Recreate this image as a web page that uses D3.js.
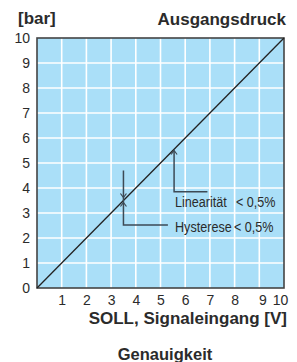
<!DOCTYPE html>
<html>
<head>
<meta charset="utf-8">
<script src="https://cdn.jsdelivr.net/npm/d3@7"></script>
<style>
  body { margin: 0; background: #fff; }
  svg { display: block; }
</style>
</head>
<body>
<div id="chart"></div>
<script>
// Kennlinie: Ausgangsdruck über Signaleingang
const xTicks = [1, 2, 3, 4, 5, 6, 7, 8, 9, 10];
const yTicks = [0, 1, 2, 3, 4, 5, 6, 7, 8, 9, 10];
const kennlinie = [[0, 0], [10, 10]];
// Anmerkungen (Position in Daten-Einheiten)
const hysterese = { x: 3.5, yTop: 4.7, yBottom: 2.52, xEnd: 5.3, label: "Hysterese", wert: "< 0,5%" };
const linearitaet = { x: 5.55, yTop: 5.5, yBottom: 3.85, xEnd: 6.9, label: "Linearität", wert: "< 0,5%" };

const breite = 297, hoehe = 362;
const rand = { links: 37, rechts: 13, oben: 38, unten: 74 };

const svg = d3.select("#chart").append("svg")
    .attr("width", breite)
    .attr("height", hoehe);

const x = d3.scaleLinear().domain([0, 10]).range([rand.links, breite - rand.rechts]);
const y = d3.scaleLinear().domain([0, 10]).range([hoehe - rand.unten, rand.oben]);

const textFarbe = "#2b2b2b";
const schrift = "Liberation Sans, Arial, sans-serif";

// Hintergrund
svg.append("rect")
    .attr("x", x(0)).attr("y", y(10))
    .attr("width", x(10) - x(0)).attr("height", y(0) - y(10))
    .attr("fill", "#aadff8");

// Gitter
svg.append("g")
    .selectAll("line")
    .data(xTicks.slice(0, -1))
    .join("line")
    .attr("x1", d => x(d)).attr("x2", d => x(d))
    .attr("y1", y(0)).attr("y2", y(10))
    .attr("stroke", "#fff").attr("stroke-width", 1.6);

svg.append("g")
    .selectAll("line")
    .data(yTicks.slice(1, -1))
    .join("line")
    .attr("y1", d => y(d)).attr("y2", d => y(d))
    .attr("x1", x(0)).attr("x2", x(10))
    .attr("stroke", "#fff").attr("stroke-width", 1.6);

// Rahmen
svg.append("rect")
    .attr("x", x(0)).attr("y", y(10))
    .attr("width", x(10) - x(0)).attr("height", y(0) - y(10))
    .attr("fill", "none")
    .attr("stroke", "#444")
    .attr("stroke-width", 1.6);

// Achsen (nur Beschriftungen)
const xAchse = svg.append("g")
    .attr("transform", `translate(0,${y(0)})`)
    .call(d3.axisBottom(x).tickValues(xTicks).tickSize(0).tickPadding(7));
const yAchse = svg.append("g")
    .attr("transform", `translate(${x(0) - 7},0)`)
    .call(d3.axisLeft(y).tickValues(yTicks).tickSize(0).tickPadding(0));
[xAchse, yAchse].forEach(a => {
    a.select(".domain").remove();
    a.selectAll("text")
        .attr("fill", textFarbe)
        .attr("font-family", schrift)
        .attr("font-size", 14);
});
// 9 und 10 stehen im Original etwas zusammengerückt
xAchse.selectAll("text").attr("dx", d => d === 9 ? 3 : d === 10 ? -4 : 0);

// Kennlinie
svg.append("path")
    .datum(kennlinie)
    .attr("d", d3.line().x(d => x(d[0])).y(d => y(d[1])))
    .attr("stroke", "#222")
    .attr("stroke-width", 1.3)
    .attr("fill", "none");

// Anmerkungen
const anmFarbe = "#3d4a55";
const pfeil = (px, py, richtung) => {
    // richtung: 1 = nach unten, -1 = nach oben
    svg.append("path")
        .attr("d", `M${px - 3},${py - 4 * richtung} L${px},${py} L${px + 3},${py - 4 * richtung}`)
        .attr("stroke", anmFarbe).attr("stroke-width", 1.2).attr("fill", "none");
};

// Hysterese
svg.append("path")
    .attr("d", `M${x(hysterese.x)},${y(hysterese.yTop)} V${y(hysterese.yBottom)} H${x(hysterese.xEnd)}`)
    .attr("stroke", anmFarbe).attr("stroke-width", 1.5).attr("fill", "none");
pfeil(x(hysterese.x), y(hysterese.x) - 3, 1);
pfeil(x(hysterese.x), y(hysterese.x) + 2, -1);

// Linearität
svg.append("path")
    .attr("d", `M${x(linearitaet.x)},${y(linearitaet.yTop)} V${y(linearitaet.yBottom)} H${x(linearitaet.xEnd)}`)
    .attr("stroke", anmFarbe).attr("stroke-width", 1.5).attr("fill", "none");
pfeil(x(linearitaet.x), y(linearitaet.yTop), -1);

// schmale Schrift: horizontal gestaucht
const anmText = (tx, ty, t) => svg.append("text")
    .attr("transform", `translate(${tx},${ty}) scale(0.84,1)`)
    .attr("fill", textFarbe)
    .attr("font-family", schrift)
    .attr("font-size", 15)
    .text(t);
anmText(175, 207, linearitaet.label);
anmText(236, 207, linearitaet.wert);
anmText(175, 232, hysterese.label);
anmText(234, 232, hysterese.wert);

// Titel
const fett = (tx, ty, t, anker, gr) => svg.append("text")
    .attr("x", tx).attr("y", ty)
    .attr("text-anchor", anker)
    .attr("fill", textFarbe)
    .attr("font-family", schrift)
    .attr("font-weight", "bold")
    .attr("font-size", gr)
    .text(t);
fett(18, 24, "[bar]", "start", 17);
fett(286, 25, "Ausgangsdruck", "end", 17);
fett(287, 324, "SOLL, Signaleingang [V]", "end", 17);
fett(165, 360, "Genauigkeit", "middle", 16.5);
</script>
</body>
</html>
